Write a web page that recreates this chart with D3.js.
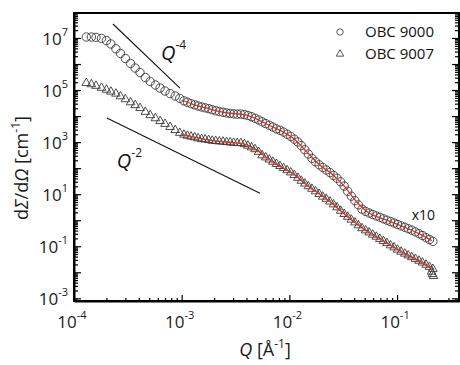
<!DOCTYPE html>
<meta charset="utf-8">
<style>
    body { margin: 0; background: #fff; }
    svg { font-family: "Open Sans", sans-serif; }
    .axis .domain { stroke: #000; stroke-width: 2; }
    .axis line { stroke: #000; stroke-width: 1.2; }
</style>
<svg width="460" height="365"></svg>
<script src="https://d3js.org/d3.v7.min.js"></script>
<script>

    // scattering vector Q (1/Angstrom), USANS part then SANS part
    var qValues = [
        1.3e-4, 1.45e-4, 1.6e-4, 1.8e-4, 2.0e-4, 2.2e-4, 2.45e-4, 2.7e-4, 3.0e-4, 3.35e-4,
        3.7e-4, 4.1e-4, 4.6e-4, 5.1e-4, 5.7e-4, 6.3e-4, 7.0e-4, 7.8e-4, 8.7e-4, 9.6e-4,
        1.05e-3, 1.13e-3, 1.22e-3, 1.32e-3, 1.42e-3, 1.53e-3, 1.65e-3, 1.78e-3, 1.92e-3, 2.07e-3,
        2.24e-3, 2.42e-3, 2.61e-3, 2.82e-3, 3.04e-3, 3.28e-3, 3.54e-3, 3.82e-3, 4.12e-3, 4.45e-3,
        4.8e-3, 5.18e-3, 5.59e-3, 6.03e-3, 6.51e-3, 7.02e-3, 7.58e-3, 8.18e-3, 8.83e-3, 9.53e-3,
        1.03e-2, 1.11e-2, 1.2e-2, 1.29e-2, 1.39e-2, 1.5e-2, 1.62e-2, 1.75e-2, 1.89e-2, 2.04e-2,
        2.2e-2, 2.38e-2, 2.57e-2, 2.77e-2, 2.99e-2, 3.23e-2, 3.48e-2, 3.76e-2, 4.06e-2, 4.38e-2,
        4.73e-2, 5.1e-2, 5.5e-2, 5.94e-2, 6.41e-2, 6.92e-2, 7.47e-2, 8.06e-2, 8.7e-2, 9.39e-2,
        0.101, 0.109, 0.118, 0.127, 0.137, 0.148, 0.16, 0.172, 0.186, 0.2,
        0.215
    ];

    // OBC 9000 (already multiplied by 10)
    var obc9000 = [
        1.09e7, 1.09e7, 1.06e7, 9.66e6, 7.94e6, 5.88e6, 3.84e6, 2.54e6, 1.63e6, 1.05e6,
        7.02e5, 4.71e5, 3.03e5, 2.12e5, 1.56e5, 1.19e5, 9.15e4, 7.33e4, 5.88e4, 4.8e4,
        3.85e4, 3.40e4, 3.00e4, 2.70e4, 2.44e4, 2.24e4, 2.08e4, 1.93e4, 1.75e4, 1.60e4,
        1.49e4, 1.40e4, 1.32e4, 1.27e4, 1.22e4, 1.19e4, 1.19e4, 1.14e4, 1.05e4, 9.49e3,
        8.23e3, 7.08e3, 6.04e3, 5.15e3, 4.43e3, 3.78e3, 3.22e3, 2.84e3, 2.43e3, 2.01e3,
        1.66e3, 1.30e3, 1.01e3, 733, 510, 348, 238, 175, 135, 106,
        85.3, 67.8, 52.8, 40.9, 30.0, 20.5, 12.9, 8.38, 5.62, 3.87,
        2.65, 2.18, 1.89, 1.66, 1.46, 1.29, 1.13, 1.00, 0.883, 0.780,
        0.689, 0.604, 0.533, 0.471, 0.416, 0.355, 0.303, 0.258, 0.212, 0.181,
        0.154
    ];

    // OBC 9007
    var obc9007 = [
        1.86e5, 1.67e5, 1.45e5, 1.22e5, 1.03e5, 8.68e4, 7.27e4, 5.73e4, 4.43e4, 3.37e4,
        2.63e4, 2.03e4, 1.45e4, 1.08e4, 8.23e3, 6.43e3, 5.01e3, 3.81e3, 2.90e3, 2.26e3,
        1930, 1760, 1630, 1520, 1400, 1300, 1270, 1200, 1130, 1100,
        1060, 1040, 1000, 973, 940, 916, 916, 838, 728, 625,
        533, 420, 310, 258, 214, 176, 145, 120, 100, 83,
        68.4, 54.3, 42.4, 32.7, 25.6, 20.1, 16.1, 12.9, 10.2, 8.02,
        6.65, 5.19, 4.06, 3.13, 2.30, 1.73, 1.35, 1.05, 0.817, 0.637,
        0.492, 0.406, 0.337, 0.279, 0.232, 0.191, 0.158, 0.132, 0.108, 0.0899,
        0.0740, 0.0614, 0.0519, 0.0443, 0.0381, 0.0325, 0.0277, 0.0236, 0.0194, 0.0161,
        0.0134
    ];
    // last noisy points of OBC 9007
    var tailQ = [0.209, 0.213, 0.218];
    var tailI = [0.0105, 0.0085, 0.0072];

    // model fits (red lines)
    var fitQ = [1.0e-3, 1.3e-3, 1.7e-3, 2.2e-3, 2.9e-3, 3.8e-3, 5e-3, 6.5e-3, 8.5e-3, 1.1e-2,
        1.45e-2, 1.9e-2, 2.5e-2, 3.2e-2, 4.2e-2, 5.5e-2, 7.2e-2, 9.4e-2, 0.123, 0.16, 0.21];
    var fit9000 = [4.16e4, 2.75e4, 2.05e4, 1.52e4, 1.26e4, 1.13e4, 7.67e3, 4.43e3, 2.63e3, 1.35e3,
        424, 134, 58.3, 21.4, 5.14, 1.89, 1.17, 0.776, 0.494, 0.303, 0.164];
    var fit9007 = [2.03e3, 1.56e3, 1.25e3, 1.07e3, 965, 838, 492, 216, 110, 57.8,
        22.6, 10.2, 4.43, 1.79, 0.728, 0.337, 0.178, 0.089, 0.0475, 0.0274, 0.0144];

    // power-law guide lines [Q, I] end points
    var guide4 = [[2.3e-4, 3.45e7], [9.64e-4, 1.19e5]];
    var guide2 = [[2.02e-4, 8.4e3], [5.33e-3, 10.9]];

    var xTickExps = [-4, -3, -2, -1];
    var yTickExps = [-3, -1, 1, 3, 5, 7];
    var seriesNames = ["OBC 9000", "OBC 9007"];

    var svg = d3.select("svg");
    var pLeft = 74, pRight = 459, pTop = 13, pBottom = 301;

    var x = d3.scaleLog().domain([1e-4, 0.376]).range([pLeft, pRight]);
    var y = d3.scaleLog().domain([7.87e-4, 9.12e7]).range([pBottom, pTop]);

    function decades(lo, hi) {
        var out = [];
        for (var e = lo; e <= hi; e++) out.push(Math.pow(10, e));
        return out;
    }
    function minors(scale, lo, hi) {
        var out = [], dom = scale.domain();
        for (var e = lo; e <= hi; e++)
            for (var k = 2; k <= 9; k++) {
                var v = k * Math.pow(10, e);
                if (v > dom[0] && v < dom[1]) out.push(v);
            }
        return out;
    }

    // frame
    svg.append("rect")
        .attr("x", pLeft).attr("y", pTop)
        .attr("width", pRight - pLeft).attr("height", pBottom - pTop)
        .attr("fill", "none").attr("stroke", "#000").attr("stroke-width", 2);

    // axes
    var gx = svg.append("g").attr("class", "axis").attr("transform", "translate(0," + pBottom + ")");
    gx.call(d3.axisBottom(x).tickValues(decades(-4, -1)).tickSize(-6).tickSizeOuter(0).tickFormat(""));
    gx.append("g").call(d3.axisBottom(x).tickValues(minors(x, -4, -1)).tickSize(-3).tickFormat(""))
        .select(".domain").remove();

    [[pLeft, d3.axisLeft], [pRight, d3.axisRight]].forEach(function (a) {
        var g = svg.append("g").attr("class", "axis").attr("transform", "translate(" + a[0] + ",0)");
        g.call(a[1](y).tickValues(decades(-3, 7)).tickSize(-7).tickSizeOuter(0).tickFormat(""));
        g.append("g").call(a[1](y).tickValues(minors(y, -4, 7)).tickSize(-4).tickFormat(""))
            .select(".domain").remove();
    });

    // tick labels with superscripts
    svg.append("g").selectAll("text")
        .data(yTickExps).enter().append("text")
        .attr("x", pLeft - 6)
        .attr("y", function (d) { return y(Math.pow(10, d)) + 7; })
        .attr("text-anchor", "end")
        .attr("font-size", 17)
        .attr("fill", "#1a1a1a")
        .each(function (d) {
            var t = d3.select(this);
            t.append("tspan").text("10");
            t.append("tspan").attr("dy", -9).attr("font-size", 11).text(d);
        });

    svg.append("g").selectAll("text")
        .data(xTickExps).enter().append("text")
        .attr("x", function (d) { return x(Math.pow(10, d)) - 2; })
        .attr("y", pBottom + 27)
        .attr("text-anchor", "middle")
        .attr("font-size", 17)
        .attr("fill", "#1a1a1a")
        .each(function (d) {
            var t = d3.select(this);
            t.append("tspan").text("10");
            t.append("tspan").attr("dy", -9).attr("font-size", 11).text(d);
        });

    // axis titles
    var yt = svg.append("text")
        .attr("transform", "translate(28,168) rotate(-90)")
        .attr("text-anchor", "middle")
        .attr("font-size", 18)
        .attr("fill", "#1a1a1a");
    yt.append("tspan").text("d");
    yt.append("tspan").attr("font-style", "italic").text("Σ");
    yt.append("tspan").text("/d");
    yt.append("tspan").attr("font-style", "italic").text("Ω");
    yt.append("tspan").text(" [cm");
    yt.append("tspan").attr("dy", -8).attr("font-size", 12).text("-1");
    yt.append("tspan").attr("dy", 8).text("]");

    var xt = svg.append("text")
        .attr("x", 265).attr("y", 356)
        .attr("text-anchor", "middle")
        .attr("font-size", 18)
        .attr("fill", "#1a1a1a");
    xt.append("tspan").attr("font-style", "italic").text("Q");
    xt.append("tspan").text(" [Å");
    xt.append("tspan").attr("dy", -8).attr("font-size", 12).text("-1");
    xt.append("tspan").attr("dy", 8).text("]");

    // guide lines
    [guide4, guide2].forEach(function (gl) {
        svg.append("line")
            .attr("x1", x(gl[0][0])).attr("y1", y(gl[0][1]))
            .attr("x2", x(gl[1][0])).attr("y2", y(gl[1][1]))
            .attr("stroke", "#111").attr("stroke-width", 1.1);
    });

    function powerLabel(q, i, exp) {
        var t = svg.append("text")
            .attr("x", x(q)).attr("y", y(i))
            .attr("font-size", 20)
            .attr("fill", "#111");
        t.append("tspan").attr("font-style", "italic").text("Q");
        t.append("tspan").attr("dy", -11).attr("font-size", 12).text(exp);
    }
    powerLabel(6.43e-4, 1.43e6, "-4");
    powerLabel(2.5e-4, 100, "-2");

    svg.append("text")
        .attr("x", x(0.137)).attr("y", y(1.0))
        .attr("font-size", 14)
        .attr("fill", "#111")
        .text("x10");

    // data markers
    svg.append("g").selectAll("circle")
        .data(qValues).enter().append("circle")
        .attr("cx", function (d) { return x(d); })
        .attr("cy", function (d, i) { return y(obc9000[i]); })
        .attr("r", 4.2)
        .attr("fill", "none")
        .attr("stroke", "#3a3a3a")
        .attr("stroke-width", 0.9);

    var tri = d3.symbol().type(d3.symbolTriangle).size(32);
    var triData = qValues.map(function (q, i) { return [q, obc9007[i]]; })
        .concat(tailQ.map(function (q, i) { return [q, tailI[i]]; }));
    svg.append("g").selectAll("path")
        .data(triData).enter().append("path")
        .attr("d", tri)
        .attr("transform", function (d) { return "translate(" + x(d[0]) + "," + y(d[1]) + ")"; })
        .attr("fill", "none")
        .attr("stroke", "#3a3a3a")
        .attr("stroke-width", 0.9);

    // fit lines
    var line = d3.line()
        .x(function (d) { return x(d[0]); })
        .y(function (d) { return y(d[1]); })
        .curve(d3.curveMonotoneX);
    [fit9000, fit9007].forEach(function (f) {
        svg.append("path")
            .datum(fitQ.map(function (q, i) { return [q, f[i]]; }))
            .attr("d", line)
            .attr("fill", "none")
            .attr("stroke", "#e0301e")
            .attr("stroke-width", 1.3);
    });

    // legend
    var lg = svg.append("g").attr("transform", "translate(340,32)");
    lg.append("circle").attr("r", 3.2).attr("fill", "none").attr("stroke", "#555");
    lg.append("path").attr("d", d3.symbol().type(d3.symbolTriangle).size(24))
        .attr("transform", "translate(0,22)").attr("fill", "none").attr("stroke", "#555");
    lg.selectAll("text")
        .data(seriesNames).enter().append("text")
        .attr("x", 25)
        .attr("y", function (d, i) { return i * 22 + 5; })
        .attr("font-size", 15)
        .attr("fill", "#111")
        .text(function (d) { return d; });

</script>
